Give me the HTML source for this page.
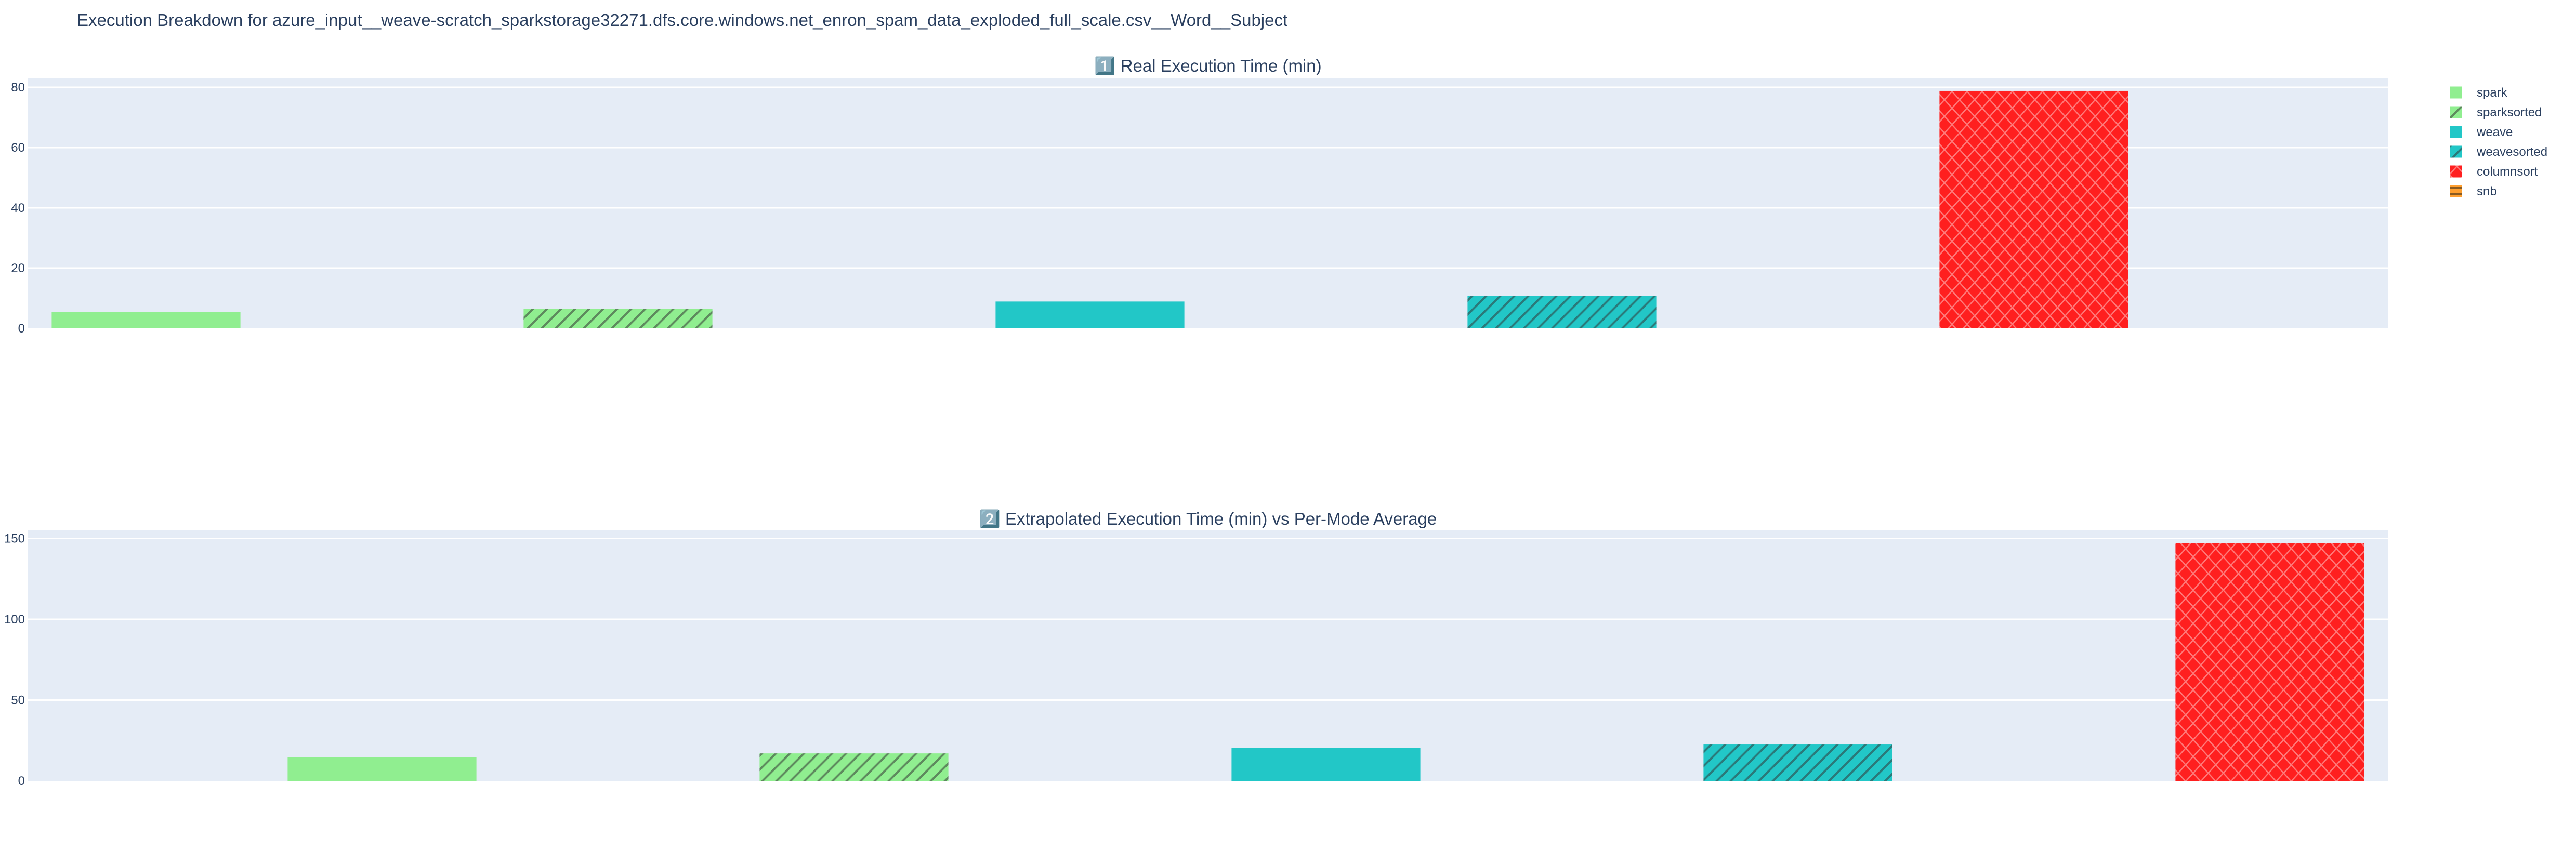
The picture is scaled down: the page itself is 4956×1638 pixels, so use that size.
<!DOCTYPE html>
<html><head><meta charset="utf-8"><style>
html,body{margin:0;padding:0;background:#fff;}
svg{display:block;font-family:"Liberation Sans","DejaVu Sans",sans-serif;}
</style></head><body>
<svg id="chart" width="4956" height="1638" viewBox="0 0 4956 1638" xmlns="http://www.w3.org/2000/svg">
<defs>
<pattern id="hatch-green" patternUnits="userSpaceOnUse" width="27" height="27">
<rect width="27" height="27" fill="#90ee90"/>
<path d="M-7,34 L34,-7 M-7,7 L7,-7 M20,34 L34,20" stroke="#5e8a5e" stroke-width="4"/>
</pattern>
<pattern id="hatch-teal" patternUnits="userSpaceOnUse" width="27" height="27">
<rect width="27" height="27" fill="#22c7c7"/>
<path d="M-7,34 L34,-7 M-7,7 L7,-7 M20,34 L34,20" stroke="#2a7a7a" stroke-width="4"/>
</pattern>
<pattern id="hatch-red" patternUnits="userSpaceOnUse" width="29" height="32">
<rect width="29" height="32" fill="#ff1f1f"/>
<path d="M0,0 L29,32 M29,0 L0,32" stroke="#ff7a7a" stroke-width="2.5"/>
</pattern>
<pattern id="hatch-orange" patternUnits="userSpaceOnUse" width="24" height="12">
<rect width="24" height="12" fill="#ff9f2f"/>
<path d="M0,2 L24,2" stroke="#8a5a20" stroke-width="4"/>
</pattern>
</defs>
<text x="148" y="50" font-size="33" fill="#2a3f5f">Execution Breakdown for azure_input__weave-scratch_sparkstorage32271.dfs.core.windows.net_enron_spam_data_exploded_full_scale.csv__Word__Subject</text>
<g id="plots"></g>
<g id="legend"></g>
</svg>
<script>
const categories = ["spark", "sparksorted", "weave", "weavesorted", "columnsort"];
const realValues = [5.5, 6.5, 8.9, 10.7, 78.8];
const extrapValues = [14.5, 17.0, 20.3, 22.5, 147];
const realTicks = [0, 20, 40, 60, 80];
const extrapTicks = [0, 50, 100, 150];
const legendNames = ["spark", "sparksorted", "weave", "weavesorted", "columnsort", "snb"];

const NS = "http://www.w3.org/2000/svg";
const fills = {spark:"#90ee90", sparksorted:"url(#hatch-green)", weave:"#22c7c7", weavesorted:"url(#hatch-teal)", columnsort:"url(#hatch-red)", snb:"url(#hatch-orange)"};
function mk(tag, attrs, parent){const e=document.createElementNS(NS,tag);for(const k in attrs)e.setAttribute(k,attrs[k]);parent.appendChild(e);return e;}
const plotsG = document.getElementById("plots");
const X0 = 54, X1 = 4594;

function drawPlot(cfg){
  const g = mk("g", {}, plotsG);
  
  
  const yScale = v => cfg.y0 - (v / cfg.max) * (cfg.y0 - cfg.top);
  const bg = mk("rect", {x:X0, y:cfg.top, width:X1-X0, height:cfg.y0-cfg.top, fill:"#e5ecf6"}, g);
  
  
  cfg.ticks.forEach(t=>{
    const y = yScale(t);
    if (t !== 0) {
      const gl = mk("line", {x1:X0, x2:X1, y1:y, y2:y, stroke:"#fff", "stroke-width":3}, g);
      
      
    }
    const tl = mk("text", {x:X0-6, y:y+8, "text-anchor":"end", "font-size":24, fill:"#2a3f5f"}, g);
    tl.textContent = t;
    
    
  });
  const slot = (X1 - X0) / categories.length;
  const bw = slot * 0.4;
  categories.forEach((c,i)=>{
    const cx = X0 + slot*(i+0.5) + cfg.offset*slot*0.25;
    const v = cfg.values[i];
    const yt = yScale(v);
    const b = mk("rect", {x:cx-bw/2, y:yt, width:bw, height:cfg.y0-yt, fill:fills[c]}, g);
    
    
  });
  const st = mk("text", {x:cfg.titleX, y:cfg.titleY, "text-anchor":"middle", "font-size":33, fill:"#2a3f5f"}, g);
  st.textContent = cfg.title;
  
  
}
drawPlot({name:"real-time-plot", top:150, y0:632, max:83.1, ticks:realTicks, values:realValues, offset:-1, title:"1️⃣ Real Execution Time (min)", titleX:2324, titleY:138});
drawPlot({name:"extrapolated-time-plot", top:1021, y0:1503, max:155, ticks:extrapTicks, values:extrapValues, offset:1, title:"2️⃣ Extrapolated Execution Time (min) vs Per-Mode Average", titleX:2324, titleY:1010});

const lg = document.getElementById("legend");
legendNames.forEach((n,i)=>{
  const y = 178 + i*38;
  const item = mk("g", {}, lg);
  
  
  mk("rect", {x:4713, y:y-12, width:24, height:24, fill:fills[n], stroke:"#fff", "stroke-width":1}, item);
  const t = mk("text", {x:4765, y:y+8, "font-size":24, fill:"#2a3f5f"}, item);
  t.textContent = n;
});
</script>
</body></html>
